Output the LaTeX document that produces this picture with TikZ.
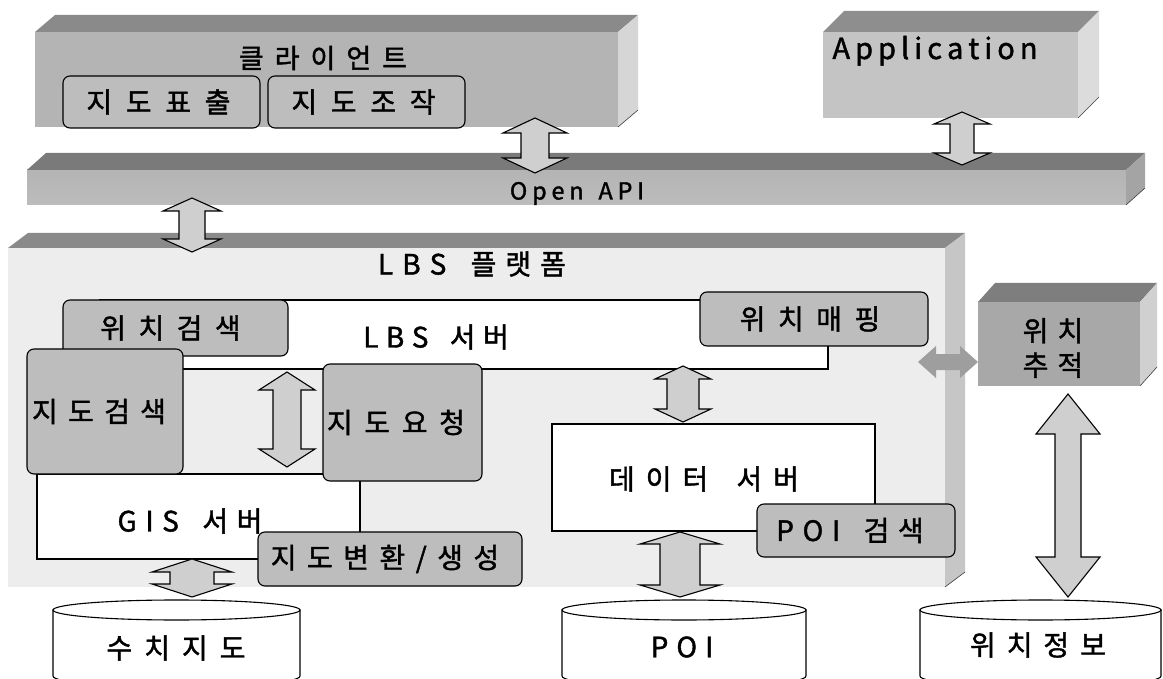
\documentclass[tikz,border=0pt]{standalone}
\usepackage{fontspec}
\newfontfamily\kr[FakeBold=1.5]{Noto Sans CJK KR}
\usetikzlibrary{calc}
\newdimen\lsamt
\def\lsend{LSEND}
\def\lsgob#1{}
\def\lsx#1{\lsy#1\lsend}
\def\lsy#1#2{#1\ifx\lsend#2\expandafter\lsgob\else\kern\lsamt\expandafter\lsy\fi#2}
\newcommand\lab[3]{\fontsize{#1}{#1}\selectfont\lsamt=#2pt\relax\lsx{#3}}
\definecolor{boxgray}{HTML}{BDBDBD}
\definecolor{arrgray}{HTML}{CFCFCF}
\definecolor{clfront}{HTML}{B4B4B4}
\definecolor{cltop}{HTML}{8A8A8A}
\definecolor{clside}{HTML}{D6D6D6}
\definecolor{apfront}{HTML}{C4C4C4}
\definecolor{aptop}{HTML}{8E8E8E}
\definecolor{apside}{HTML}{DCDCDC}
\definecolor{bartop}{HTML}{7A7A7A}
\definecolor{barside}{HTML}{A4A4A4}
\definecolor{barA}{HTML}{B4B4B4}
\definecolor{barB}{HTML}{BCBCBC}
\definecolor{plfront}{HTML}{EDEDED}
\definecolor{pltop}{HTML}{8A8A8A}
\definecolor{plside}{HTML}{C6C6C6}
\definecolor{trfront}{HTML}{A8A8A8}
\definecolor{trtop}{HTML}{7E7E7E}
\definecolor{trside}{HTML}{D0D0D0}
\newcommand\threed[5]{%
  \fill[#4] (#1.north west) -- ++(#2,-#3) -- ($(#1.north east)+(#2,-#3)$) -- (#1.north east) -- cycle;
  \fill[#5] (#1.north east) -- ++(#2,-#3) -- ($(#1.south east)+(#2,-#3)$) -- (#1.south east) -- cycle;
  \draw[line width=0.6pt, black!75] (#1.south east) -- ++(#2,-#3);}
\newcommand\vdarr[5]{%
  \path[dblarrow] let \p1=(#1), \p2=(#2) in
    (\x1,\y1) -- (\x1+#4pt,\y1-#5pt) -- (\x1+#3pt,\y1-#5pt) -- (\x1+#3pt,\y2+#5pt)
    -- (\x1+#4pt,\y2+#5pt) -- (\x1,\y2) -- (\x1-#4pt,\y2+#5pt) -- (\x1-#3pt,\y2+#5pt)
    -- (\x1-#3pt,\y1-#5pt) -- (\x1-#4pt,\y1-#5pt) -- cycle;}
\newcommand\cyl[2]{%
  \filldraw[cylst] (#1-#2,610) -- (#1-#2,676) .. controls (#1-#2,690) and (#1+#2,690) .. (#1+#2,676) -- (#1+#2,610) -- cycle;
  \filldraw[cylst] (#1,610) ellipse [x radius=#2, y radius=10];}
\begin{document}
\begin{tikzpicture}[x=1pt,y=-1pt,
  face/.style={rectangle, inner sep=0pt, outer sep=0pt, draw=none},
  lbl/.style={font=\kr, inner sep=0pt, text=black},
  rbox/.style={rectangle, font=\kr, inner sep=0pt, outer sep=0pt, draw=black, line width=1.1pt, fill=boxgray, rounded corners=7pt},
  wbox/.style={rectangle, inner sep=0pt, outer sep=0pt, draw=black, line width=1.1pt, fill=white},
  dblarrow/.style={draw=black, line width=1.1pt, fill=arrgray, line join=miter},
  cylst/.style={draw=black, line width=1.1pt, fill=white}]
\useasboundingbox (0,0) rectangle (1163,679);
\clip (0,0) rectangle (1163,679);
\fill[white] (0,0) rectangle (1163,679);

% 3D blocks
\node[face, fill=plfront, minimum width=937pt, minimum height=339pt] (plat) at (476.5,417.5) {};
\threed{plat}{20}{15}{pltop}{plside}
\node[face, fill=clfront, minimum width=583pt, minimum height=95pt] (client) at (326.5,79.5) {};
\threed{client}{20}{17}{cltop}{clside}
\node[face, fill=apfront, minimum width=255pt, minimum height=86pt] (app) at (950.5,75) {};
\threed{app}{21}{21}{aptop}{apside}
\node[face, top color=barA, middle color=white, bottom color=barB, minimum width=1099pt, minimum height=35pt] (api) at (576.5,187.5) {};
\threed{api}{19}{17}{bartop}{barside}
\node[face, fill=trfront, minimum width=162pt, minimum height=84pt] (track) at (1059,344) {};
\threed{track}{17}{19}{trtop}{trside}

% white server boxes
\node[wbox, minimum width=728pt, minimum height=69pt] (lbs) at (464,334.5) {};
\node[wbox, minimum width=323pt, minimum height=85pt] (gis) at (198.5,516.5) {};
\node[wbox, minimum width=323pt, minimum height=107pt] (data) at (713.5,477.5) {};

% rounded function boxes
\node[rbox, minimum width=197pt, minimum height=52pt] (pyo) at (161.5,102) {\lab{28}{13.7}{지도표출}\kern6pt};
\node[rbox, minimum width=197pt, minimum height=52pt] (jojak) at (366.5,102) {\lab{28}{13.7}{지도조작}\kern6pt};
\node[rbox, minimum width=225pt, minimum height=56pt] (wgs) at (175.5,328) {\lab{28}{12.5}{위치검색}\kern10pt};
\node[rbox, minimum width=228pt, minimum height=54pt] (wmp) at (814,319) {\lab{28}{12.5}{위치매핑}\kern8pt};
\node[rbox, minimum width=156pt, minimum height=125pt] (jgs) at (105,411.5) {\raisebox{-8pt}{\lab{28}{10.3}{지도검색}}\kern12pt};
\node[rbox, minimum width=159pt, minimum height=117pt] (jyc) at (402.5,422.5) {\raisebox{-3pt}{\lab{28}{11.7}{지도요청}}\kern13pt};
\node[rbox, minimum width=264pt, minimum height=54pt] (jbh) at (390,559) {\lab{28}{10.5}{지도변환/생성}\kern10pt};
\node[rbox, minimum width=198pt, minimum height=53pt] (poig) at (856,530.5) {\raisebox{-1pt}{\lab{28}{8.6}{POI~검색}}\kern12pt};

% labels
\node[lbl] (cltxt) at (323,58) {\lab{27}{11}{클라이언트}};
\node[lbl, anchor=base] (apptxt) at (935,59) {\lab{29}{5}{Application}};
\node[lbl, anchor=base] (apitxt) at (577,199.5) {\lab{23.5}{4.8}{Open~API}};
\node[lbl] (plattxt) at (472,264) {\lab{28}{9}{LBS~플랫폼}};
\node[lbl] (lbstxt) at (436,337) {\lab{28}{7.5}{LBS~서버}};
\node[lbl] (gistxt) at (190,521) {\lab{28}{8.6}{GIS~서버}};
\node[lbl] (datatxt) at (704,479) {\lab{28}{11}{데이터~서버}};
\node[lbl, align=center] (tracktxt) at (1053,348) {\lab{28}{9}{위치}\\[8pt]\lab{28}{9}{추적}};

% databases
\cyl{176.5}{123.5}
\cyl{684}{122}
\cyl{1040.5}{120.5}
\node[lbl] (db1) at (176,648) {\lab{28}{12}{수치지도}};
\node[lbl] (db2) at (682,647) {\lab{28}{8}{POI}};
\node[lbl] (db3) at (1038,645) {\lab{28}{11}{위치정보}};

% connector end points
\coordinate (a1t) at (535,118); \coordinate (a1b) at (535,173);
\coordinate (a2t) at (962,112); \coordinate (a2b) at (962,165);
\coordinate (a3t) at (192,198); \coordinate (a3b) at (192,252);
\coordinate (a4t) at (287,372); \coordinate (a4b) at (287,467);
\coordinate (a5t) at (683,366); \coordinate (a5b) at (683,422);
\coordinate (a6t) at (192,559); \coordinate (a6b) at (192,597);
\coordinate (a7t) at (680,532); \coordinate (a7b) at (680,597);
\coordinate (a8t) at (1068,394); \coordinate (a8b) at (1068,597);
\coordinate (h1l) at (918,362); \coordinate (h1r) at (978,362);

\vdarr{a1t}{a1b}{14}{32}{15}
\vdarr{a2t}{a2b}{12}{28}{12}
\vdarr{a3t}{a3b}{13}{29}{13}
\vdarr{a4t}{a4b}{14}{28}{18}
\vdarr{a5t}{a5b}{16}{28}{13}
\vdarr{a6t}{a6b}{22}{40}{13}
\vdarr{a7t}{a7b}{20}{40}{12}
\vdarr{a8t}{a8b}{13}{32}{40}
\path[fill=black!38] let \p1=(h1l), \p2=(h1r) in
  (\x1,\y1) -- (\x1+18pt,\y1+16pt) -- (\x1+18pt,\y1+8pt) -- (\x2-18pt,\y1+8pt) -- (\x2-18pt,\y1+16pt)
  -- (\x2,\y1) -- (\x2-18pt,\y1-16pt) -- (\x2-18pt,\y1-8pt) -- (\x1+18pt,\y1-8pt) -- (\x1+18pt,\y1-16pt) -- cycle;
\end{tikzpicture}
\end{document}
